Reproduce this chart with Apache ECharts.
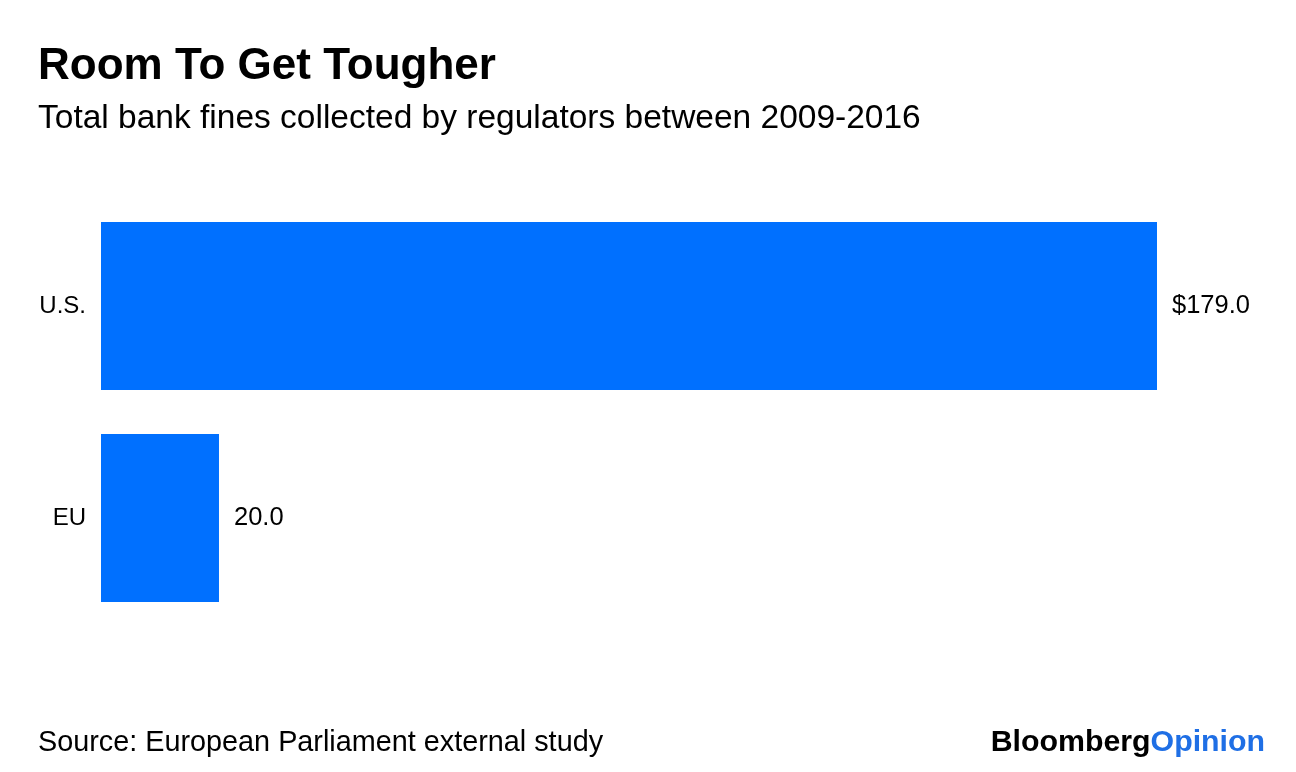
<!DOCTYPE html>
<html><head><meta charset="utf-8">
<script src="https://cdn.jsdelivr.net/npm/echarts@6/dist/echarts.min.js"></script>
<style>html,body{margin:0;padding:0;background:#fff}#c{width:1296px;height:772px}</style>
</head><body><div id="c"></div>
<script>
const categories = ["U.S.", "EU"];
const values = [179.0, 20.0];
const valuePrefix = ["$", ""];

const FONT = '"Liberation Sans", Arial, sans-serif';
const chart = echarts.init(document.getElementById('c'));
chart.setOption({
  backgroundColor: '#ffffff',
  animation: false,
  title: [
    {text: 'Room To Get Tougher', left: 33, top: 40,
     textStyle: {fontFamily: FONT, fontSize: 44, fontWeight: 'bold', color: '#000'}},
    {text: 'Total bank fines collected by regulators between 2009-2016', left: 33, top: 97,
     textStyle: {fontFamily: FONT, fontSize: 33.5, fontWeight: 'normal', color: '#000'}},
    {text: 'Source: European Parliament external study', left: 33, top: 724,
     textStyle: {fontFamily: FONT, fontSize: 28.8, fontWeight: 'normal', color: '#000'}},
    {text: '{a|Bloomberg}{b|Opinion}', right: 26, top: 723,
     textStyle: {rich: {
       a: {fontFamily: FONT, fontSize: 30.3, fontWeight: 'bold', color: '#000'},
       b: {fontFamily: FONT, fontSize: 30.3, fontWeight: 'bold', color: '#1F6FE5'}
     }}}
  ],
  grid: {left: 101, top: 200, width: 1056, height: 424, containLabel: false},
  xAxis: {type: 'value', min: 0, max: 179, show: false},
  yAxis: {type: 'category', data: categories, inverse: true,
    axisLine: {show: false}, axisTick: {show: false}, splitLine: {show: false},
    axisLabel: {fontFamily: FONT, fontSize: 24, color: '#000', margin: 15}},
  series: [{
    type: 'bar', data: values, barCategoryGap: '20.75%',
    itemStyle: {color: '#0070FF'},
    label: {show: true, position: 'right', distance: 15,
      fontFamily: FONT, fontSize: 25.5, color: '#000',
      formatter: p => valuePrefix[p.dataIndex] + p.value.toFixed(1)}
  }]
});
</script></body></html>
